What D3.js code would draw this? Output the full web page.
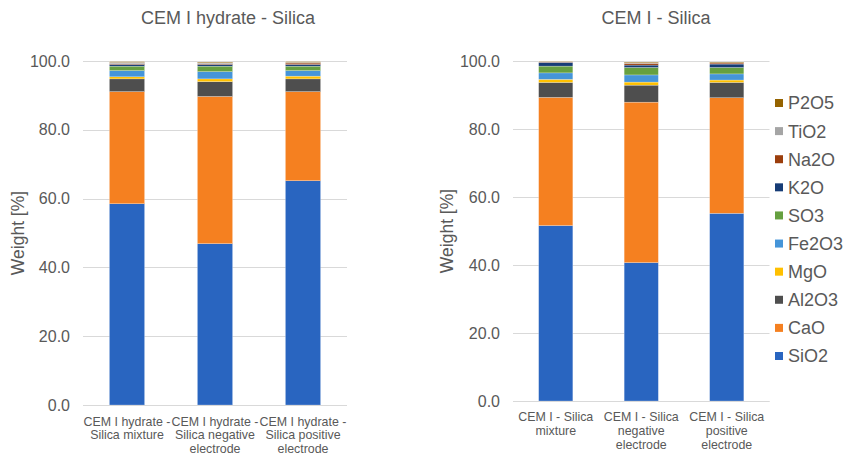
<!DOCTYPE html>
<html>
<head>
<meta charset="utf-8">
<script src="https://cdn.jsdelivr.net/npm/d3@7"></script>
<style>
  html, body { margin: 0; padding: 0; background: #fff; }
  svg { display: block; font-family: Arial, "Liberation Sans", Helvetica, sans-serif; }
</style>
</head>
<body>
<svg id="chart" width="844" height="456"></svg>
<script>
// Oxide components, bottom of the stack first
const components = ["SiO2", "CaO", "Al2O3", "MgO", "Fe2O3", "SO3", "K2O", "Na2O", "TiO2", "P2O5"];
const colors = ["#2965c0", "#f58020", "#4e4e4e", "#ffc000", "#4595d9", "#66a040", "#163c76", "#9b3e0c", "#a5a5a5", "#956300"];

// Left chart: hydrated cement paste with silica
const hydrateCategories = ["mixture", "negative", "positive"];
const hydrateLabels = [
  ["CEM I hydrate -", "Silica mixture"],
  ["CEM I hydrate -", "Silica negative", "electrode"],
  ["CEM I hydrate -", "Silica positive", "electrode"]
];
// weight % per component (same order as components), one value per category
const hydrateSiO2  = [58.5, 46.9, 65.2];
const hydrateCaO   = [32.6, 42.8, 25.9];
const hydrateAl2O3 = [3.7, 4.3, 3.7];
const hydrateMgO   = [0.6, 0.8, 0.8];
const hydrateFe2O3 = [1.8, 2.1, 1.6];
const hydrateSO3   = [1.3, 1.6, 1.3];
const hydrateK2O   = [0.5, 0.5, 0.5];
const hydrateNa2O  = [0.2, 0.2, 0.4];
const hydrateTiO2  = [0.4, 0.3, 0.2];
const hydrateP2O5  = [0.2, 0.2, 0.2];

// Right chart: unhydrated cement with silica
const cemCategories = ["mixture", "negative", "positive"];
const cemLabels = [
  ["CEM I - Silica", "mixture"],
  ["CEM I - Silica", "negative", "electrode"],
  ["CEM I - Silica", "positive", "electrode"]
];
const cemSiO2  = [51.6, 40.7, 55.2];
const cemCaO   = [37.7, 47.2, 34.0];
const cemAl2O3 = [4.4, 5.0, 4.5];
const cemMgO   = [0.9, 0.9, 0.7];
const cemFe2O3 = [1.9, 2.1, 1.8];
const cemSO3   = [2.0, 2.2, 1.9];
const cemK2O   = [1.1, 0.7, 1.0];
const cemNa2O  = [0.1, 0.5, 0.3];
const cemTiO2  = [0.1, 0.2, 0.1];
const cemP2O5  = [0.1, 0.2, 0.2];

const yTicks = [0, 20, 40, 60, 80, 100];

const hydrateSeries = [hydrateSiO2, hydrateCaO, hydrateAl2O3, hydrateMgO, hydrateFe2O3, hydrateSO3, hydrateK2O, hydrateNa2O, hydrateTiO2, hydrateP2O5];
const cemSeries = [cemSiO2, cemCaO, cemAl2O3, cemMgO, cemFe2O3, cemSO3, cemK2O, cemNa2O, cemTiO2, cemP2O5];

const svg = d3.select("#chart");
const textColor = "#595959";
const gridColor = "#d9d9d9";

function rows(categories, series) {
  return categories.map((c, i) => {
    const r = { category: c };
    components.forEach((k, j) => { r[k] = series[j][i]; });
    return r;
  });
}

function drawPanel(opts) {
  const { categories, series, labels, title, left, right, top, bottom, titleX, yTitleX, labelY, labelStep } = opts;
  const g = svg.append("g");

  const x = d3.scaleBand().domain(categories).range([left, right]).paddingInner(0.6).paddingOuter(0.3);
  const y = d3.scaleLinear().domain([0, 100]).range([bottom, top]);

  // gridlines
  g.append("g")
    .selectAll("line")
    .data(yTicks)
    .join("line")
    .attr("x1", left).attr("x2", right)
    .attr("y1", d => Math.round(y(d)) + 0.5).attr("y2", d => Math.round(y(d)) + 0.5)
    .attr("stroke", gridColor).attr("stroke-width", 1);

  // y axis labels
  const yAxis = d3.axisLeft(y).tickValues(yTicks).tickFormat(d3.format(".1f")).tickSize(0).tickPadding(13);
  const ya = g.append("g").attr("transform", `translate(${left},0)`).call(yAxis);
  ya.select(".domain").remove();
  ya.selectAll("text").attr("fill", textColor).attr("font-size", 16);

  // stacked bars
  const stacked = d3.stack().keys(components)(rows(categories, series));
  g.append("g")
    .selectAll("g")
    .data(stacked)
    .join("g")
    .attr("fill", (d, i) => colors[i])
    .selectAll("rect")
    .data(d => d)
    .join("rect")
    .attr("x", d => x(d.data.category))
    .attr("width", x.bandwidth())
    .attr("y", d => y(d[1]))
    .attr("height", d => Math.max(0, y(d[0]) - y(d[1])))
    .attr("stroke", "#fff").attr("stroke-width", 0.4).attr("stroke-opacity", 0.6);

  // baseline axis
  g.append("line")
    .attr("x1", left).attr("x2", right)
    .attr("y1", Math.round(bottom) + 0.5).attr("y2", Math.round(bottom) + 0.5)
    .attr("stroke", gridColor).attr("stroke-width", 1.2);

  // category labels
  const xa = g.append("g");
  categories.forEach((c, i) => {
    const t = xa.append("text")
      .attr("x", x(c) + x.bandwidth() / 2)
      .attr("y", labelY)
      .attr("text-anchor", "middle")
      .attr("fill", textColor)
      .attr("font-size", 12.4);
    labels[i].forEach((line, k) => {
      t.append("tspan").attr("x", x(c) + x.bandwidth() / 2).attr("dy", k === 0 ? 0 : labelStep).text(line);
    });
  });

  // chart title
  g.append("text")
    .attr("x", titleX).attr("y", 24)
    .attr("text-anchor", "middle")
    .attr("fill", textColor)
    .attr("font-size", 18)
    .text(title);

  // y axis title
  g.append("text")
    .attr("transform", `translate(${yTitleX},${(top + bottom) / 2}) rotate(-90)`)
    .attr("text-anchor", "middle")
    .attr("fill", textColor)
    .attr("font-size", 17.5)
    .text("Weight [%]");

  return { x, y };
}

drawPanel({
  categories: hydrateCategories, series: hydrateSeries, labels: hydrateLabels,
  title: "CEM I hydrate - Silica",
  left: 83, right: 347, top: 61, bottom: 405,
  titleX: 228, yTitleX: 24, labelY: 426, labelStep: 13.3
});

drawPanel({
  categories: cemCategories, series: cemSeries, labels: cemLabels,
  title: "CEM I - Silica",
  left: 513, right: 769.5, top: 61, bottom: 401,
  titleX: 656, yTitleX: 453, labelY: 420.5, labelStep: 14.3
});

// legend, top entry is the last stacked component
const legendOrder = components.slice().reverse();
const legend = svg.append("g");
const ly = d3.scalePoint().domain(legendOrder).range([103, 356]);
legend.selectAll("rect")
  .data(legendOrder)
  .join("rect")
  .attr("x", 775).attr("y", d => ly(d) - 4)
  .attr("width", 8).attr("height", 8)
  .attr("fill", d => colors[components.indexOf(d)]);
legend.selectAll("text")
  .data(legendOrder)
  .join("text")
  .attr("x", 788).attr("y", d => ly(d))
  .attr("dy", "0.36em")
  .attr("fill", textColor)
  .attr("font-size", 18)
  .text(d => d);
</script>
</body>
</html>
